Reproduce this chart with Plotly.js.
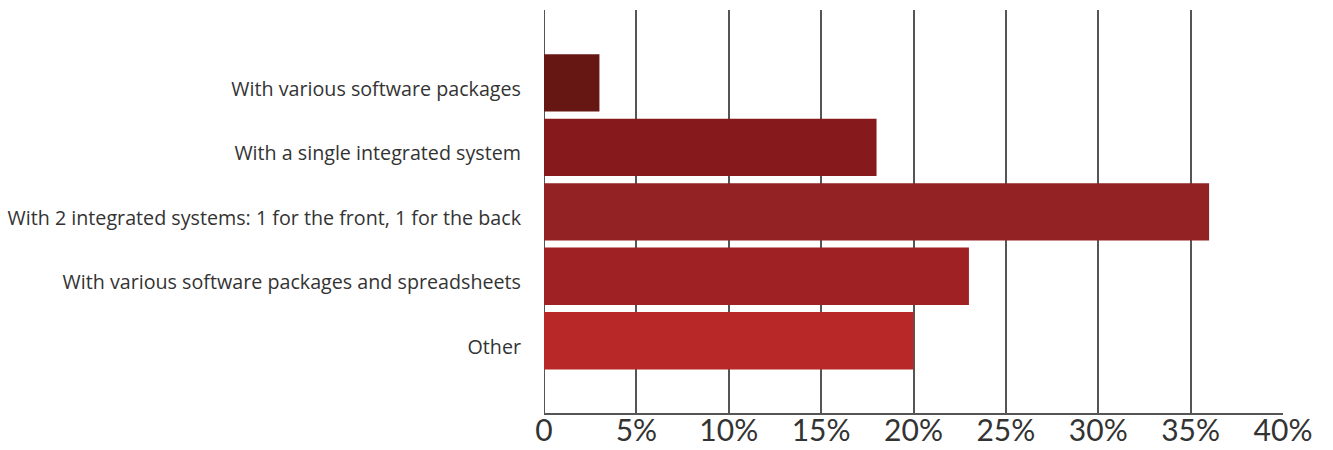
<!DOCTYPE html>
<html>
<head>
<meta charset="utf-8">
<script src="https://cdn.plot.ly/plotly-3.0.1.min.js"></script>
<style>html,body{margin:0;padding:0;background:#fff;}#chart{width:1333px;height:450px;}</style>
</head>
<body>
<div id="chart"></div>
<script>
const categories = [
  "With various software packages",
  "With a single integrated system",
  "With 2 integrated systems: 1 for the front, 1 for the back",
  "With various software packages and spreadsheets",
  "Other"
];
const values = [3, 18, 36, 23, 20];
const barColors = ["#661713", "#86191b", "#922224", "#a02124", "#b82829"];
const xTickVals = [0, 5, 10, 15, 20, 25, 30, 35, 40];
const xTickText = ["0", "5%", "10%", "15%", "20%", "25%", "30%", "35%", "40%"];

const trace = {
  type: "bar",
  orientation: "h",
  x: values,
  y: categories,
  marker: {color: barColors},
  width: 0.89,
  hoverinfo: "none"
};

const layout = {
  width: 1333,
  height: 450,
  margin: {l: 544, r: 50, t: 10, b: 37, pad: 0},
  paper_bgcolor: "#fff",
  plot_bgcolor: "#fff",
  showlegend: false,
  font: {family: "'Open Sans', Lato, sans-serif", color: "#333"},
  xaxis: {
    range: [0, 40],
    tickvals: xTickVals,
    ticktext: xTickText,
    showgrid: true,
    gridcolor: "#555",
    gridwidth: 2,
    zeroline: false,
    showline: true,
    linecolor: "#555",
    linewidth: 2,
    ticks: "",
    ticklabelstandoff: -10,
    tickfont: {family: "Lato, sans-serif", size: 30, color: "#333"},
    fixedrange: true
  },
  yaxis: {
    type: "category",
    range: [5.12, -1.13],
    showgrid: false,
    zeroline: false,
    showline: false,
    ticks: "",
    ticklabelstandoff: 22,
    ticklabelshift: -6,
    tickfont: {size: 19.7, color: "#333"},
    fixedrange: true
  },
  shapes: [{
    type: "line", xref: "x", yref: "paper", x0: 0, x1: 0, y0: 0, y1: 1,
    line: {color: "#555", width: 2}, layer: "below"
  }]
};

Plotly.newPlot("chart", [trace], layout, {displayModeBar: false, staticPlot: true});
</script>
</body>
</html>
